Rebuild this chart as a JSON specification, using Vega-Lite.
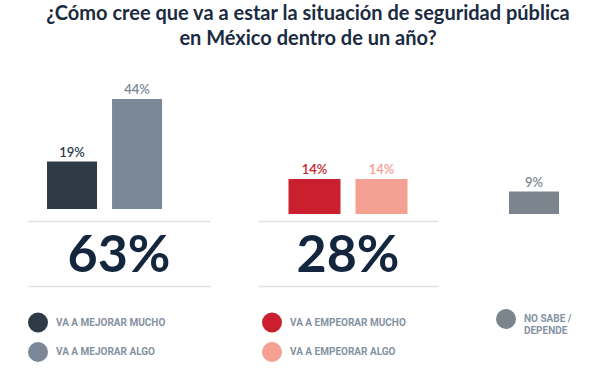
{
  "$schema": "https://vega.github.io/schema/vega-lite/v6.json",
  "background": "#ffffff",
  "padding": {"left": 28, "top": 4, "right": 0, "bottom": 0},
  "config": {"view": {"stroke": null}, "font": "Lato"},
  "title": {
    "text": ["¿Cómo cree que va a estar la situación de seguridad pública", "en México dentro de un año?"],
    "font": "Lato", "fontSize": 20, "fontWeight": "bold", "color": "#1b2b41",
    "anchor": "middle", "lineHeight": 25, "offset": 35, "dx": 8
  },
  "datasets": {
    "bars": [
      {"grupo": "Mejorar", "categoria": "VA A MEJORAR MUCHO", "valor": 0.19},
      {"grupo": "Mejorar", "categoria": "VA A MEJORAR ALGO", "valor": 0.44},
      {"grupo": "Empeorar", "categoria": "VA A EMPEORAR MUCHO", "valor": 0.14},
      {"grupo": "Empeorar", "categoria": "VA A EMPEORAR ALGO", "valor": 0.14},
      {"grupo": "No sabe", "categoria": "NO SABE / DEPENDE", "valor": 0.09}
    ],
    "totals": [
      {"grupo": "Mejorar", "total": 0.63},
      {"grupo": "Empeorar", "total": 0.28}
    ]
  },
  "hconcat": [
    {
      "vconcat": [
        {
          "width": 182, "height": 125,
          "data": {"name": "bars"},
          "transform": [{"filter": "datum.grupo == 'Mejorar'"}],
          "encoding": {
            "x": {"field": "categoria", "type": "nominal", "sort": ["VA A MEJORAR MUCHO", "VA A MEJORAR ALGO"],
              "scale": {"paddingInner": 0.2308, "paddingOuter": 0.515, "align": 0.284},
              "axis": {"labels": false, "ticks": false, "title": null, "grid": false, "domainColor": "#dfe2e5", "domainWidth": 1.5, "offset": 12}},
            "y": {"field": "valor", "type": "quantitative", "scale": {"domain": [0, 0.5]}, "axis": null},
            "color": {"field": "categoria", "type": "nominal",
              "scale": {"domain": ["VA A MEJORAR MUCHO", "VA A MEJORAR ALGO", "VA A EMPEORAR MUCHO", "VA A EMPEORAR ALGO", "NO SABE / DEPENDE"],
                "range": ["#2e3b47", "#7b8898", "#c91f2e", "#f4a093", "#7c858d"]}}
          },
          "layer": [
            {"mark": {"type": "bar"}},
            {"mark": {"type": "text", "baseline": "alphabetic", "dy": -5, "fontSize": 13, "fontWeight": 600, "font": "Lato"},
             "encoding": {"text": {"field": "valor", "type": "quantitative", "format": ".0%"}}}
          ]
        },
        {
          "width": 182, "height": 65,
          "data": {"name": "totals"},
          "transform": [{"filter": "datum.grupo == 'Mejorar'"}],
          "mark": {"type": "text", "fontSize": 52, "fontWeight": "bold", "font": "Lato", "color": "#14263d", "baseline": "middle", "dy": 2},
          "encoding": {
            "x": {"field": "grupo", "type": "nominal", "axis": {"labels": false, "ticks": false, "title": null, "grid": false, "domainColor": "#dfe2e5", "domainWidth": 1.5}},
            "text": {"field": "total", "type": "quantitative", "format": ".0%"}
          }
        }
      ],
      "spacing": 0,
      "resolve": {"scale": {"x": "independent", "y": "independent"}}
    },
    {
      "vconcat": [
        {
          "width": 180, "height": 130,
          "data": {"name": "bars"},
          "transform": [{"filter": "datum.grupo == 'Empeorar'"}],
          "encoding": {
            "x": {"field": "categoria", "type": "nominal", "sort": ["VA A EMPEORAR MUCHO", "VA A EMPEORAR ALGO"],
              "scale": {"paddingInner": 0.224, "paddingOuter": 0.455, "align": 0.5},
              "axis": {"labels": false, "ticks": false, "title": null, "grid": false, "domainColor": "#dfe2e5", "domainWidth": 1.5, "offset": 7}},
            "y": {"field": "valor", "type": "quantitative", "scale": {"domain": [0, 0.52]}, "axis": null},
            "color": {"field": "categoria", "type": "nominal",
              "scale": {"domain": ["VA A MEJORAR MUCHO", "VA A MEJORAR ALGO", "VA A EMPEORAR MUCHO", "VA A EMPEORAR ALGO", "NO SABE / DEPENDE"],
                "range": ["#2e3b47", "#7b8898", "#c91f2e", "#f4a093", "#7c858d"]}}
          },
          "layer": [
            {"mark": {"type": "bar"}},
            {"mark": {"type": "text", "baseline": "alphabetic", "dy": -5, "fontSize": 13, "fontWeight": 600, "font": "Lato"},
             "encoding": {"text": {"field": "valor", "type": "quantitative", "format": ".0%"}}}
          ]
        },
        {
          "width": 180, "height": 65,
          "data": {"name": "totals"},
          "transform": [{"filter": "datum.grupo == 'Empeorar'"}],
          "mark": {"type": "text", "fontSize": 52, "fontWeight": "bold", "font": "Lato", "color": "#14263d", "baseline": "middle", "dy": 2},
          "encoding": {
            "x": {"field": "grupo", "type": "nominal", "axis": {"labels": false, "ticks": false, "title": null, "grid": false, "domainColor": "#dfe2e5", "domainWidth": 1.5}},
            "text": {"field": "total", "type": "quantitative", "format": ".0%"}
          }
        }
      ],
      "spacing": 0,
      "resolve": {"scale": {"x": "independent", "y": "independent"}}
    },
    {
      "width": 73, "height": 130,
      "data": {"name": "bars"},
      "transform": [{"filter": "datum.grupo == 'No sabe'"}],
      "encoding": {
        "x": {"field": "categoria", "type": "nominal",
          "scale": {"paddingInner": 0, "paddingOuter": 0.23, "align": 1}, "axis": null},
        "y": {"field": "valor", "type": "quantitative", "scale": {"domain": [0, 0.52]}, "axis": null},
        "color": {"field": "categoria", "type": "nominal",
          "scale": {"domain": ["VA A MEJORAR MUCHO", "VA A MEJORAR ALGO", "VA A EMPEORAR MUCHO", "VA A EMPEORAR ALGO", "NO SABE / DEPENDE"],
            "range": ["#2e3b47", "#7b8898", "#c91f2e", "#f4a093", "#7c858d"]},
          "legend": {
            "orient": "none", "legendX": 0, "legendY": 225, "columns": 3, "direction": "vertical",
            "title": null, "symbolType": "circle", "symbolSize": 400, "symbolStrokeWidth": 0, "symbolOpacity": 1,
            "labelFont": "Roboto", "labelFontSize": 10, "labelFontWeight": "bold", "labelColor": "#8592a2",
            "labelOffset": 8, "rowPadding": 6, "columnPadding": 90, "gridAlign": "all", "labelLimit": 300,
            "labelExpr": "datum.label == 'NO SABE / DEPENDE' ? ['NO SABE /', 'DEPENDE'] : datum.label"
          }}
      },
      "layer": [
        {"mark": {"type": "bar"}},
        {"mark": {"type": "text", "baseline": "alphabetic", "dy": -5, "fontSize": 13, "fontWeight": 600, "font": "Lato"},
         "encoding": {"text": {"field": "valor", "type": "quantitative", "format": ".0%"}}}
      ]
    }
  ],
  "spacing": 48,
  "resolve": {"scale": {"x": "independent", "y": "independent", "color": "shared"}}
}
